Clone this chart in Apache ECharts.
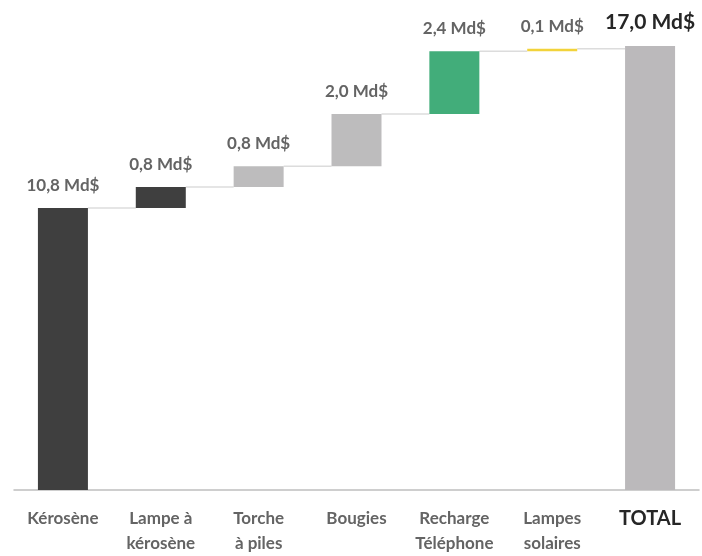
<!DOCTYPE html>
<html>
<head>
<meta charset="utf-8">
<script src="https://cdn.jsdelivr.net/npm/echarts@6/dist/echarts.min.js"></script>
<style>
  html, body { margin: 0; padding: 0; background: #fff; }
  #chart { width: 702px; height: 556px; }
</style>
</head>
<body>
<div id="chart"></div>
<script>
// catégories et valeurs (Md$)
const categories = ['Kérosène', 'Lampe à\nkérosène', 'Torche\nà piles', 'Bougies', 'Recharge\nTéléphone', 'Lampes\nsolaires', 'TOTAL'];
const deltas = [10.8, 0.8, 0.8, 2.0, 2.4, 0.1];
const total = 17.0;
const colors = ['#3f3f3f', '#3f3f3f', '#bdbcbd', '#bdbcbd', '#42ad7a', '#f2d33b', '#bbb9bb'];

// bases du waterfall
const bases = [];
const levels = [];
let acc = 0;
deltas.forEach(d => {
  bases.push(acc);
  acc += d;
  levels.push(acc);
});
bases.push(0);

const fmt = v => v.toFixed(1).replace('.', ',') + ' Md$';
const BAR_W = 50;

const valueData = deltas.map((d, i) => ({
  value: d,
  itemStyle: { color: colors[i] }
}));
valueData.push({
  value: total,
  itemStyle: { color: colors[6] },
  label: { fontWeight: 'bold', fontSize: 21, color: '#262626', distance: 13 }
});

const chart = echarts.init(document.getElementById('chart'));
chart.setOption({
  animation: false,
  grid: { left: 14, right: 3, top: 20, bottom: 64 },
  xAxis: {
    type: 'category',
    data: categories,
    axisLine: { lineStyle: { color: '#bfbfbf', width: 1.5 } },
    axisTick: { length: 5, lineStyle: { color: '#d9d9d9' } },
    axisLabel: {
      margin: 16,
      fontFamily: 'Lato',
      fontWeight: 'bold',
      fontSize: 17,
      lineHeight: 25,
      color: '#646464',
      interval: 0,
      formatter: v => v === 'TOTAL' ? '{b|' + v + '}' : v,
      rich: {
        b: { fontWeight: 'bold', fontSize: 20, color: '#262626', fontFamily: 'Lato' }
      }
    }
  },
  yAxis: { type: 'value', show: false, min: 0, max: 18 },
  series: [
    {
      type: 'bar',
      stack: 'w',
      barWidth: BAR_W,
      silent: true,
      itemStyle: { color: 'transparent' },
      data: bases
    },
    {
      type: 'bar',
      stack: 'w',
      barWidth: BAR_W,
      label: {
        show: true,
        position: 'top',
        distance: 14,
        formatter: p => fmt(p.value),
        fontFamily: 'Lato',
        fontWeight: 'bold',
        fontSize: 17,
        color: '#646464'
      },
      data: valueData
    },
    {
      // lignes de liaison entre les barres
      type: 'custom',
      silent: true,
      z: 1,
      data: levels.map((l, i) => [i, l]),
      renderItem: (params, api) => {
        const p = api.coord([api.value(0), api.value(1)]);
        const band = api.size([1, 0])[0];
        return {
          type: 'line',
          shape: { x1: p[0] + BAR_W / 2, y1: p[1], x2: p[0] + band - BAR_W / 2, y2: p[1] },
          style: { stroke: '#dcdcdc', lineWidth: 1.5 }
        };
      }
    }
  ]
});
</script>
</body>
</html>
